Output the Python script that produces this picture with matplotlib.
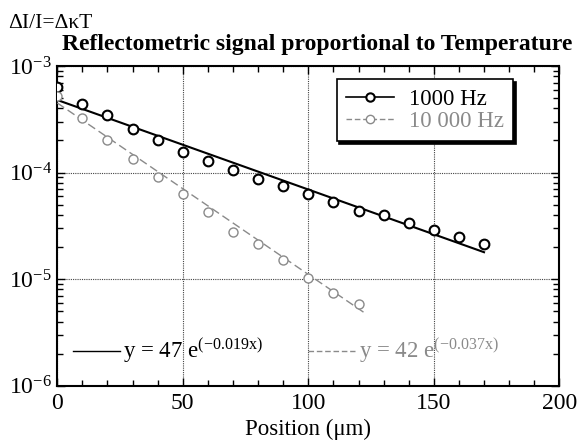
import numpy as np
import matplotlib
matplotlib.use('Agg')
import matplotlib.pyplot as plt
from matplotlib.lines import Line2D
from matplotlib.ticker import FixedLocator, LogLocator, NullFormatter

plt.rcParams['font.family'] = ['Liberation Serif', 'DejaVu Serif']
plt.rcParams['mathtext.fontset'] = 'custom'
plt.rcParams['mathtext.rm'] = 'Liberation Serif'
plt.rcParams['mathtext.it'] = 'Liberation Serif:italic'

# data
pos_1k = [0, 10, 20, 30, 40, 50, 60, 70, 80, 90, 100, 110, 120, 130, 140, 150, 160, 170]
sig_1k = [6.4e-4, 4.37e-4, 3.5e-4, 2.58e-4, 2.04e-4, 1.57e-4, 1.29e-4, 1.06e-4, 8.7e-5,
          7.5e-5, 6.3e-5, 5.3e-5, 4.4e-5, 4.03e-5, 3.34e-5, 2.9e-5, 2.47e-5, 2.14e-5]
pos_10k = [0, 10, 20, 30, 40, 50, 60, 70, 80, 90, 100, 110, 120]
sig_10k = [5.2e-4, 3.22e-4, 2.04e-4, 1.33e-4, 9.0e-5, 6.3e-5, 4.26e-5, 2.74e-5, 2.14e-5,
           1.51e-5, 1.02e-5, 7.4e-6, 5.9e-6]

# fitted lines (end points)
fit_1k_x = [0, 170]
fit_1k_y = [4.8e-4, 1.79e-5]
fit_10k_x = [0, 122]
fit_10k_y = [4.5e-4, 4.9e-6]

series_labels = ['1000 Hz', '10 000 Hz']
fit_labels = [r'y = 47 e$^{\mathregular{(-0.019x)}}$', r'y = 42 e$^{\mathregular{(-0.037x)}}$']
ytick_vals = [1e-6, 1e-5, 1e-4, 1e-3]
ytick_labels = [r'10$^{\mathregular{-6}}$', r'10$^{\mathregular{-5}}$',
                r'10$^{\mathregular{-4}}$', r'10$^{\mathregular{-3}}$']

grey = '#8a8a8a'

fig = plt.figure(figsize=(5.78, 4.43), dpi=100)
ax = fig.add_axes([0.0991, 0.1293, 0.8686, 0.7217])

ax.plot(fit_1k_x, fit_1k_y, color='black', lw=1.5, zorder=3)
ax.plot(fit_10k_x, fit_10k_y, color=grey, lw=1.0, ls=(0, (6, 3)), zorder=3)
ax.plot(pos_1k, sig_1k, ls='none', marker='o', ms=7, mfc='white', mec='black', mew=1.5, zorder=4)
ax.plot(pos_10k, sig_10k, ls='none', marker='o', ms=6.5, mfc='white', mec=grey, mew=1.0, zorder=4)

ax.set_yscale('log')
ax.set_xlim(0, 200)
ax.set_ylim(1e-6, 1e-3)
ax.set_xticks([0, 50, 100, 150, 200])
ax.xaxis.set_minor_locator(FixedLocator(np.arange(0, 201, 10)))
ax.set_yticks(ytick_vals)
ax.set_yticklabels(ytick_labels)
ax.yaxis.set_minor_locator(LogLocator(base=10, subs=np.arange(2, 10)))
ax.yaxis.set_minor_formatter(NullFormatter())

ax.tick_params(which='both', direction='in', top=True, right=True, labelsize=17)
ax.tick_params(which='major', length=6, width=1.0)
ax.tick_params(which='minor', length=4, width=1.0)
ax.tick_params(axis='x', pad=5)
ax.tick_params(axis='y', pad=4)
for s in ax.spines.values():
    s.set_linewidth(1.5)

ax.grid(True, which='major', ls=(0, (1, 1)), color='#444444', lw=0.8)

ax.set_xlabel('Position (μm)', fontsize=16.5, labelpad=4)

handles = [Line2D([], [], color='black', lw=1.2, marker='o', ms=6, mfc='white', mec='black', mew=1.5),
           Line2D([], [], color=grey, lw=1.0, ls=(0, (4, 2)), marker='o', ms=6, mfc='white', mec=grey, mew=1.0)]
leg = ax.legend(handles, series_labels, loc='upper left', bbox_to_anchor=(0.5566, 0.958),
                borderaxespad=0, fontsize=16.5, numpoints=1, handlelength=2.1, handletextpad=0.65,
                labelspacing=0.05, borderpad=0.4, fancybox=False, framealpha=1,
                edgecolor='black', shadow={'color': 'black', 'alpha': 1})
leg.get_frame().set_linewidth(1.2)
leg.get_texts()[1].set_color(grey)

# fit equations at the bottom
ax.plot([0.031, 0.125], [0.109, 0.109], transform=ax.transAxes, color='black', lw=1.0)
ax.text(0.13, 0.109, fit_labels[0], transform=ax.transAxes, fontsize=16.5, va='center')
ax.plot([0.5, 0.593], [0.109, 0.109], transform=ax.transAxes, color=grey, lw=1.0, ls=(0, (4, 2)))
ax.text(0.6, 0.109, fit_labels[1], transform=ax.transAxes, fontsize=16.5, va='center', color=grey)

fig.text(0.548, 0.887, 'Reflectometric signal proportional to Temperature',
         ha='center', va='baseline', fontsize=17, fontweight='bold')
fig.text(0.014, 0.937, 'ΔI/I=ΔκT', ha='left', va='baseline', fontsize=15.5)

fig.savefig('out.png', dpi=100)
